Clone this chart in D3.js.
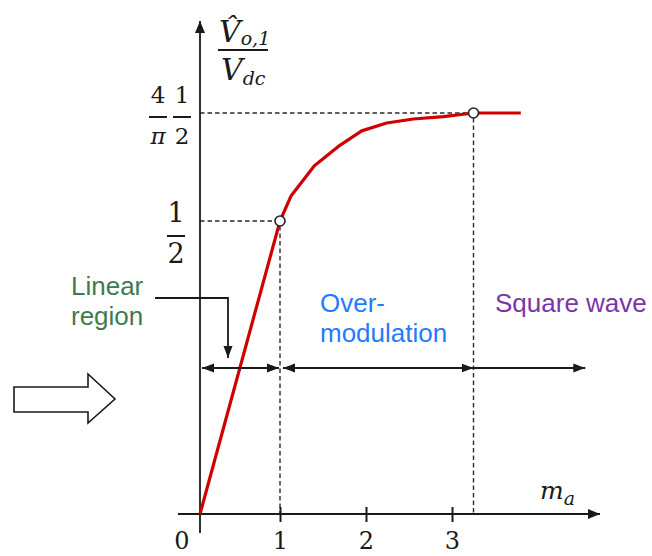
<!DOCTYPE html>
<html>
<head>
<meta charset="utf-8">
<script src="https://cdn.jsdelivr.net/npm/d3@7"></script>
<style>
  html, body { margin: 0; padding: 0; background: #fff; }
  svg { display: block; }
</style>
</head>
<body>
<svg id="chart" width="652" height="556"></svg>
<script>
// Fundamental output amplitude vs. amplitude modulation ratio
const maValues   = [0, 1, 1.13, 1.40, 1.70, 1.95, 2.24, 2.55, 2.90, 3.25, 3.80];
const gainValues = [0, 0.5, 0.532, 0.570, 0.596, 0.614, 0.624, 0.629, 0.632, 0.6366, 0.6366];

// Marked operating points: end of linear region, onset of square wave
const markedMa   = [1, 3.25];
const markedGain = [0.5, 2 / Math.PI];

// Axis tick values
const xTickValues = [1, 2, 3];

// Region spans along m_a
const regionStart = [0, 1, 3.25];
const regionEnd   = [1, 3.25, 4.55];
const regionNames = [["Linear", "region"], ["Over-", "modulation"], ["Square wave"]];
const regionColors = ["#3f7a52", "#1f7bff", "#7a35a6"];

const svg = d3.select("#chart");

// Piecewise scales: the linear range is drawn stretched relative to the rest
const x = d3.scaleLinear().domain([0, 1, 3]).range([200, 280, 452]);
const y = d3.scaleLinear().domain([0, 0.5, 2 / Math.PI]).range([514, 221, 113]);

const ink = "#1a1a1a";
const serif = "'DejaVu Serif', 'Liberation Serif', serif";
const sans = "'Liberation Sans', Arial, sans-serif";

const defs = svg.append("defs");
function marker(id, path) {
  defs.append("marker")
    .attr("id", id)
    .attr("viewBox", "0 0 12 12")
    .attr("refX", 12).attr("refY", 6)
    .attr("markerWidth", 12).attr("markerHeight", 12)
    .attr("markerUnits", "userSpaceOnUse")
    .attr("orient", "auto-start-reverse")
    .append("path").attr("d", path).attr("fill", ink);
}
marker("head", "M0,1 L12,6 L0,11 Z");
marker("headSmall", "M0,1.5 L12,6 L0,10.5 Z");

// Guide lines to the marked points
const guides = svg.append("g")
  .attr("stroke", "#2a2a2a").attr("stroke-width", 1.4)
  .attr("stroke-dasharray", "4.5,3").attr("fill", "none");
markedMa.forEach((m, i) => {
  const px = x(m), py = y(markedGain[i]);
  guides.append("line").attr("x1", x(0)).attr("x2", px - 5).attr("y1", py).attr("y2", py);
  guides.append("line").attr("x1", px).attr("x2", px).attr("y1", py + 5).attr("y2", y(0));
});

// Axes
svg.append("line")
  .attr("x1", 178).attr("x2", 600).attr("y1", y(0)).attr("y2", y(0))
  .attr("stroke", ink).attr("stroke-width", 1.8)
  .attr("marker-end", "url(#head)");
svg.append("line")
  .attr("x1", x(0)).attr("x2", x(0)).attr("y1", 533).attr("y2", 21)
  .attr("stroke", ink).attr("stroke-width", 1.8)
  .attr("marker-end", "url(#head)");

const xAxis = d3.axisBottom(x)
  .tickValues(xTickValues)
  .tickSize(15)
  .tickPadding(12)
  .tickFormat(d3.format("d"));
const gx = svg.append("g")
  .attr("transform", `translate(0,${y(0) - 7})`)
  .call(xAxis);
gx.select(".domain").remove();
gx.selectAll(".tick line").attr("stroke", ink).attr("stroke-width", 2);
gx.selectAll(".tick text")
  .attr("fill", ink).attr("font-family", serif).attr("font-size", 24)
  .attr("y", 42).attr("dy", 0);

svg.append("text")
  .attr("x", x(0) - 18).attr("y", y(0) + 35)
  .attr("text-anchor", "middle")
  .attr("font-family", serif).attr("font-size", 24).attr("fill", ink)
  .text("0");

// x-axis label m_a
const xl = svg.append("text")
  .attr("x", 540).attr("y", 499)
  .attr("font-family", serif).attr("font-style", "italic")
  .attr("font-size", 25).attr("fill", ink);
xl.append("tspan").text("m");
xl.append("tspan").attr("font-size", 19).attr("dy", 6).text("a");

// y-axis label: V̂o,1 / Vdc
const yl = svg.append("g").attr("font-family", serif).attr("fill", ink);
const num = yl.append("text").attr("x", 219).attr("y", 42)
  .attr("font-style", "italic").attr("font-size", 30);
num.append("tspan").text("V\u0302");
num.append("tspan").attr("font-size", 19).attr("dy", 3).text("o,1");
yl.append("line").attr("x1", 218).attr("x2", 268).attr("y1", 50).attr("y2", 50)
  .attr("stroke", ink).attr("stroke-width", 2);
const den = yl.append("text").attr("x", 221).attr("y", 80)
  .attr("font-style", "italic").attr("font-size", 30);
den.append("tspan").text("V");
den.append("tspan").attr("font-size", 19).attr("dy", 5).text("dc");

// y-axis value labels as stacked fractions
function fraction(cx, top, n, d, size, barW, italicDen) {
  const g = svg.append("g").attr("font-family", serif).attr("font-size", size)
    .attr("fill", ink).attr("text-anchor", "middle");
  g.append("text").attr("x", cx).attr("y", top).text(n);
  g.append("line").attr("x1", cx - barW / 2).attr("x2", cx + barW / 2)
    .attr("y1", top + 14).attr("y2", top + 14)
    .attr("stroke", ink).attr("stroke-width", 2);
  g.append("text").attr("x", cx).attr("y", top + 41)
    .attr("font-style", italicDen ? "italic" : null).text(d);
}
fraction(176, y(0.5) + 1, "1", "2", 27, 18, false);
fraction(158, y(2 / Math.PI) - 10, "4", "π", 23, 18, true);
fraction(182, y(2 / Math.PI) - 10, "1", "2", 23, 18, false);

// Characteristic curve
const line = d3.line().x((d, i) => x(maValues[i])).y(d => y(d));
svg.append("path")
  .datum(gainValues)
  .attr("d", line)
  .attr("fill", "none").attr("stroke", "#d00000")
  .attr("stroke-width", 3.2).attr("stroke-linejoin", "round");

// Marked points
svg.append("g").selectAll("circle")
  .data(markedMa)
  .join("circle")
  .attr("cx", d => x(d)).attr("cy", (d, i) => y(markedGain[i]))
  .attr("r", 5).attr("fill", "#fff")
  .attr("stroke", "#222").attr("stroke-width", 1.6);

// Region span arrows
const spanY = 368;
svg.append("g").selectAll("line")
  .data(regionStart)
  .join("line")
  .attr("x1", (d, i) => x(d) + (i === 0 ? 2 : i === 1 ? 3 : 0))
  .attr("x2", (d, i) => x(regionEnd[i]) - (i === 0 ? 1 : 0))
  .attr("y1", spanY).attr("y2", spanY)
  .attr("stroke", ink).attr("stroke-width", 1.8)
  .attr("marker-start", (d, i) => i < 2 ? "url(#headSmall)" : null)
  .attr("marker-end", "url(#headSmall)");

// Region names
const labelPos = [[71, 295], [320, 312], [495, 312]];
regionNames.forEach((lines, i) => {
  const t = svg.append("text")
    .attr("x", labelPos[i][0]).attr("y", labelPos[i][1])
    .attr("font-family", sans).attr("font-size", 26)
    .attr("fill", regionColors[i]);
  lines.forEach((s, k) => t.append("tspan")
    .attr("x", labelPos[i][0]).attr("dy", k === 0 ? 0 : 30).text(s));
});

// Leader from "Linear region" to the linear span
svg.append("path")
  .attr("d", "M155,298 H228 V358")
  .attr("fill", "none").attr("stroke", ink).attr("stroke-width", 1.8)
  .attr("marker-end", "url(#headSmall)");

// Outline arrow pointing at the chart
svg.append("path")
  .attr("d", "M14,387 H88 V374 L115,399 L88,423 V412 H14 Z")
  .attr("fill", "#fff").attr("stroke", ink).attr("stroke-width", 1.6)
  .attr("stroke-linejoin", "miter");
</script>
</body>
</html>
